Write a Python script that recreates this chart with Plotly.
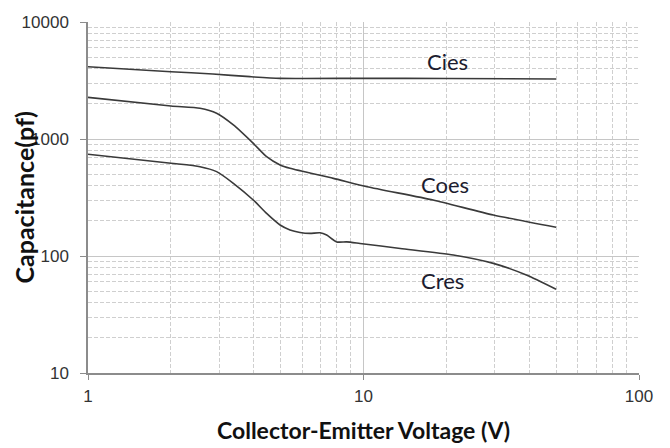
import math
import plotly.graph_objects as go

# Collector-emitter voltage (V) and capacitances (pF)
cies_v = [1, 2, 2.84, 3.87, 4.98, 10, 20, 50]
cies_c = [4150, 3760, 3590, 3410, 3300, 3300, 3290, 3260]

coes_v = [1, 2, 2.55, 2.93, 3.37, 3.98, 4.45, 4.98, 5.41, 7.77, 10.3, 17.9, 29.6, 50]
coes_c = [2270, 1915, 1830, 1660, 1318, 918, 706, 600, 562, 461, 391, 301, 224, 176]

cres_v = [1, 2, 2.55, 2.93, 3.37, 3.98, 4.45, 4.98, 5.41, 5.88, 6.39, 6.95, 7.35, 7.99,
          8.69, 9.71, 13.6, 21.2, 29.6, 39.0, 50]
cres_c = [740, 620, 580, 526, 418, 301, 231, 184, 167, 159, 156, 158, 151, 132,
          132, 128, 116, 102, 86.5, 68.8, 52]

label_text = ["Cies", "Coes", "Cres"]
label_v = [20.1, 19.8, 19.4]
label_c = [4640, 408, 61.8]

x_tickvals = [1, 10, 100]
x_ticktext = ["1", "10", "100"]
y_tickvals = [10, 100, 1000, 10000]
y_ticktext = ["10", "100", "1000", "10000"]

x_title = "Collector-Emitter Voltage (V)"
y_title = "Capacitance(pf)"

line_style = dict(color="#3a3a3a", width=1.6, shape="spline", smoothing=0.6)

fig = go.Figure()
for v, c in [(cies_v, cies_c), (coes_v, coes_c), (cres_v, cres_c)]:
    fig.add_trace(go.Scatter(x=v, y=c, mode="lines", line=line_style,
                             showlegend=False, hoverinfo="skip"))

for t, v, c in zip(label_text, label_v, label_c):
    fig.add_annotation(x=math.log10(v), y=math.log10(c), xref="x", yref="y",
                       text=t, showarrow=False,
                       font=dict(family="Lato", size=22, color="#1c1c30"))

# axis titles as annotations (positioned like the reference)
fig.add_annotation(x=0.5, y=0, xref="paper", yref="paper", yanchor="middle",
                   xanchor="center", yshift=-57, text="<b>" + x_title + "</b>",
                   showarrow=False,
                   font=dict(family="Lato", size=23, color="#111111"))
fig.add_annotation(x=0, y=0.5, xref="paper", yref="paper", xanchor="center",
                   yanchor="middle", xshift=-65, textangle=-90,
                   text="<b>" + y_title + "</b>", showarrow=False,
                   font=dict(family="Lato", size=25, color="#111111"))

grid_major = "#c6c6c6"
grid_minor = "#cfcfcf"

common = dict(showgrid=True, gridcolor=grid_major, gridwidth=1,
              showline=True, linecolor="#8c8c8c", linewidth=1.5,
              ticks="outside", tickcolor="#8c8c8c", automargin=False,
              tickfont=dict(family="Liberation Sans", size=17, color="#333333"),
              minor=dict(dtick="D1", showgrid=True, gridcolor=grid_minor,
                         griddash="4px,2px", gridwidth=1, ticks=""),
              zeroline=False)

fig.update_xaxes(type="log", range=[0, 2], tickvals=x_tickvals, ticktext=x_ticktext,
                 ticklen=5, ticklabelstandoff=2, **common)
fig.update_yaxes(type="log", range=[1, 4], tickvals=y_tickvals, ticktext=y_ticktext,
                 ticklen=6, ticklabelstandoff=8, **common)

# the page body adds an 8px margin, so the figure is sized to compensate
fig.update_layout(width=662, height=440,
                  margin=dict(l=80, r=31, t=14, b=75),
                  paper_bgcolor="white", plot_bgcolor="white")

fig.write_html("out.html")
